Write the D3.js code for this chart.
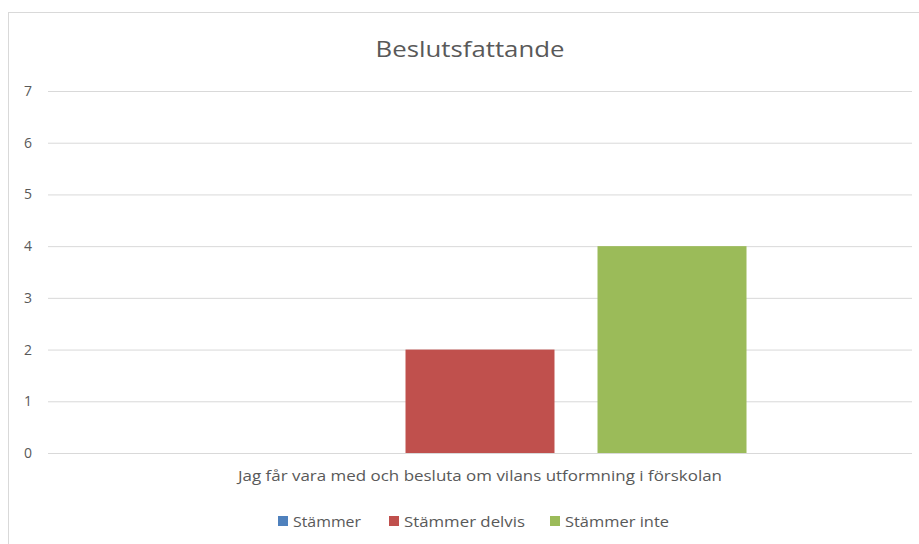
<!DOCTYPE html>
<html><head><meta charset="utf-8">
<script src="https://cdn.jsdelivr.net/npm/d3@7"></script>
<style>body{margin:0;background:#fff}svg{display:block}</style>
</head><body>
<script>
const categories = ["Jag får vara med och besluta om vilans utformning i förskolan"];
const seriesNames = ["Stämmer", "Stämmer delvis", "Stämmer inte"];
const seriesValues = [0, 2, 4];
const seriesColors = ["#4f81bd", "#c0504d", "#9bbb59"];
const yTicks = [0, 1, 2, 3, 4, 5, 6, 7];
const titleText = "Beslutsfattande";

const W = 919, H = 544;
const font = "'Open Sans',sans-serif";
const svg = d3.select("body").append("svg").attr("width", W).attr("height", H);

svg.append("rect").attr("x", 8.5).attr("y", 12.5).attr("width", W).attr("height", H)
  .attr("fill", "#fff").attr("stroke", "#d9d9d9");

const pLeft = 48, pRight = 912, pTop = 91, pBottom = 453;
const y = d3.scaleLinear().domain([0, 7]).range([pBottom, pTop]);
const x0 = d3.scaleBand().domain(categories).range([pLeft, pRight]).paddingInner(0).paddingOuter(0.3105);
const x1 = d3.scaleBand().domain(seriesNames).range([0, x0.bandwidth()]).paddingInner(0.224).paddingOuter(0);

const gridAxis = d3.axisLeft(y).tickValues(yTicks).tickSize(-(pRight - pLeft)).tickFormat(d3.format("d")).tickPadding(16);
const ga = svg.append("g").attr("transform", `translate(${pLeft},0)`).call(gridAxis);
ga.select(".domain").remove();
ga.selectAll(".tick line").attr("stroke", "#d9d9d9").attr("stroke-width", 1);
ga.selectAll(".tick text").attr("fill", "#595959").style("font-family", font).style("font-size", "14px");

const g = svg.append("g");
categories.forEach((c) => {
  seriesNames.forEach((s, si) => {
    g.append("rect")
      .attr("x", x0(c) + x1(s))
      .attr("y", y(seriesValues[si]))
      .attr("width", x1.bandwidth())
      .attr("height", y(0) - y(seriesValues[si]))
      .attr("fill", seriesColors[si]);
  });
});

svg.append("line").attr("x1", pLeft).attr("x2", pRight).attr("y1", y(0) + 0.5).attr("y2", y(0) + 0.5).attr("stroke", "#d9d9d9");

const xa = d3.axisBottom(x0).tickSize(0).tickPadding(17);
const xg = svg.append("g").attr("transform", `translate(0,${pBottom})`).call(xa);
xg.select(".domain").remove();
xg.selectAll(".tick text").attr("fill", "#595959").style("font-family", font).style("font-size", "15px")
  .attr("textLength", 484).attr("lengthAdjust", "spacingAndGlyphs");

svg.append("text").attr("x", 470).attr("y", 57).attr("text-anchor", "middle")
  .attr("fill", "#595959").style("font-family", font).style("font-size", "21px")
  .attr("textLength", 189).attr("lengthAdjust", "spacingAndGlyphs").text(titleText);

const legend = svg.append("g").attr("transform", "translate(0,521)");
const legendX = [278, 389, 550];
const legendTextW = [68, 121, 104];
seriesNames.forEach((s, i) => {
  legend.append("rect").attr("x", legendX[i]).attr("y", -5).attr("width", 10).attr("height", 10).attr("fill", seriesColors[i]);
  legend.append("text").attr("x", legendX[i] + 15).attr("y", 5.5).attr("fill", "#595959")
    .style("font-family", font).style("font-size", "15px")
    .attr("textLength", legendTextW[i]).attr("lengthAdjust", "spacingAndGlyphs").text(s);
});
</script>
</body></html>
